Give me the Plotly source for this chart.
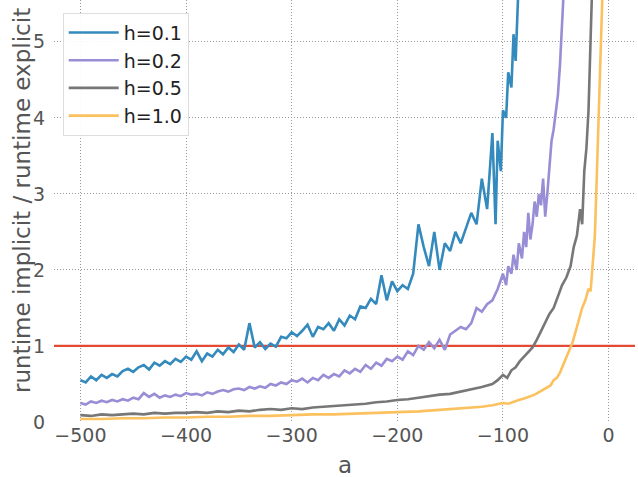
import plotly.graph_objects as go

# ---- data ----
a_h01 = [-500,-495,-490,-485,-480,-475,-470,-465,-460,-455,-450,-445,-440,-435,-430,-425,-420,-415,-410,-405,
         -400,-395,-390,-385,-380,-375,-370,-365,-360,-355,-350,-345,-340,-335,-330,-325,-320,-315,-310,-305,
         -300,-295,-290,-285,-280,-275,-270,-265,-260,-255,-250,-245,-240,-235,-230,-225,-220,-215,-210,-205,
         -200,-195,-190,-185,-180,-175,-170,-165,-160,-155,-150,-145,-140,-135,-130,-125,-120,-115,-110,-107,
         -105,-102,-100,-97,-95,-92,-90,-88,-86,-84]
r_h01 = [0.55,0.52,0.60,0.55,0.62,0.58,0.63,0.60,0.67,0.70,0.66,0.72,0.75,0.69,0.78,0.74,0.80,0.76,0.83,0.79,
         0.86,0.82,0.93,0.80,0.90,0.86,0.95,0.89,0.98,0.92,1.02,0.95,1.30,0.98,1.05,0.96,1.03,0.99,1.12,1.10,
         1.18,1.13,1.20,1.28,1.12,1.25,1.22,1.30,1.20,1.35,1.27,1.40,1.35,1.52,1.50,1.62,1.55,1.93,1.60,1.85,
         1.72,1.80,1.75,1.95,2.60,2.30,2.05,2.50,2.00,2.35,2.25,2.50,2.35,2.55,2.75,2.60,3.20,2.80,3.80,2.60,
         3.70,3.30,4.10,4.00,4.60,4.40,5.10,4.75,5.60,6.20]

a_h02 = [-500,-495,-490,-485,-480,-475,-470,-465,-460,-455,-450,-445,-440,-435,-430,-425,-420,-415,-410,-405,
         -400,-395,-390,-385,-380,-375,-370,-365,-360,-355,-350,-345,-340,-335,-330,-325,-320,-315,-310,-305,
         -300,-295,-290,-285,-280,-275,-270,-265,-260,-255,-250,-245,-240,-235,-230,-225,-220,-215,-210,-205,
         -200,-195,-190,-185,-180,-175,-170,-165,-160,-155,-150,-145,-140,-135,-130,-125,-120,-115,-110,-105,
         -100,-97,-95,-92,-90,-87,-85,-82,-80,-78,-76,-74,-72,-70,-68,-66,-64,-62,-60,-58,
         -56,-54,-52,-50,-48,-46,-44,-42]
r_h02 = [0.25,0.23,0.27,0.25,0.28,0.26,0.29,0.27,0.30,0.28,0.32,0.30,0.38,0.33,0.37,0.32,0.35,0.33,0.36,0.34,
         0.38,0.36,0.37,0.35,0.39,0.37,0.40,0.42,0.40,0.43,0.44,0.42,0.46,0.44,0.47,0.45,0.50,0.48,0.52,0.50,
         0.55,0.53,0.57,0.52,0.58,0.55,0.62,0.58,0.63,0.60,0.68,0.64,0.70,0.66,0.75,0.70,0.78,0.74,0.83,0.80,
         0.86,0.82,0.93,0.88,1.00,0.95,1.05,0.97,1.08,0.95,1.15,1.20,1.25,1.22,1.30,1.50,1.45,1.55,1.60,1.75,
         1.95,1.80,2.05,1.95,2.20,2.00,2.35,2.15,2.50,2.30,2.75,2.40,2.60,2.90,2.70,3.00,2.85,3.20,2.70,3.00,
         3.40,3.70,3.85,4.10,4.30,4.70,5.20,5.80]

a_h05 = [-500,-490,-480,-470,-460,-450,-440,-430,-420,-410,-400,-390,-380,-370,-360,-350,-340,-330,-320,-310,
         -300,-290,-280,-270,-260,-250,-240,-230,-220,-210,-200,-190,-180,-170,-160,-150,-140,-130,-120,-115,
         -110,-105,-100,-96,-92,-88,-84,-80,-76,-72,-68,-64,-60,-56,-52,-48,-44,-40,-36,-33,
         -30,-27,-25,-23,-21,-19,-17,-15]
r_h05 = [0.09,0.08,0.10,0.09,0.10,0.11,0.10,0.12,0.11,0.12,0.12,0.13,0.12,0.14,0.13,0.15,0.14,0.16,0.17,0.16,
         0.18,0.17,0.19,0.20,0.21,0.22,0.23,0.24,0.26,0.27,0.29,0.30,0.32,0.34,0.36,0.37,0.40,0.42,0.46,0.48,
         0.50,0.55,0.62,0.58,0.68,0.72,0.80,0.86,0.92,0.98,1.08,1.20,1.32,1.42,1.50,1.65,1.80,1.90,2.05,2.30,
         2.45,2.80,2.60,3.30,3.60,4.10,5.00,6.00]

a_h10 = [-500,-480,-460,-440,-420,-400,-380,-360,-340,-320,-300,-280,-260,-240,-220,-200,-180,-160,-140,-120,
         -110,-100,-95,-90,-85,-80,-75,-70,-65,-60,-55,-52,-49,-46,-43,-40,-37,-34,-31,-28,
         -25,-22,-19,-17,-15,-13,-11,-9,-7,-5]
r_h10 = [0.04,0.04,0.05,0.05,0.06,0.06,0.07,0.07,0.08,0.08,0.09,0.10,0.10,0.11,0.12,0.13,0.14,0.16,0.18,0.20,
         0.22,0.25,0.24,0.27,0.29,0.31,0.33,0.36,0.40,0.44,0.48,0.55,0.58,0.65,0.75,0.85,0.95,1.05,1.20,1.35,
         1.50,1.60,1.75,1.72,2.05,2.45,3.30,4.20,5.10,6.00]

ref_x = [-525, 25]
ref_y = [1, 1]

x_ticks = [-500, -400, -300, -200, -100, 0]
y_ticks = [0, 1, 2, 3, 4, 5]

series = [
    ("h=0.1", a_h01, r_h01, "#348ABD"),
    ("h=0.2", a_h02, r_h02, "#988ED5"),
    ("h=0.5", a_h05, r_h05, "#777777"),
    ("h=1.0", a_h10, r_h10, "#FBC15E"),
]

fig = go.Figure()
fig.add_trace(go.Scatter(x=ref_x, y=ref_y, mode="lines", showlegend=False,
                         line=dict(color="#E24A33", width=2.2), hoverinfo="skip"))
for name, xs, ys, col in series:
    fig.add_trace(go.Scatter(x=xs, y=ys, mode="lines", name=name,
                             line=dict(color=col, width=2.6)))

font_family = "DejaVu Sans"
grid_dash = "1px,2px"
fig.update_layout(
    width=638, height=477,
    margin=dict(l=54, r=3, t=0, b=55),
    paper_bgcolor="white", plot_bgcolor="white",
    font=dict(family=font_family, size=19, color="#555555"),
    showlegend=True,
    legend=dict(x=0.015, y=0.97, xanchor="left", yanchor="top",
                bgcolor="rgba(255,255,255,0.9)", bordercolor="#dddddd", borderwidth=1,
                font=dict(size=19, color="#222222"), itemwidth=50, tracegroupgap=0),
    xaxis=dict(range=[-525, 25], tickvals=x_ticks, showgrid=True, gridcolor="#999999",
               griddash=grid_dash, gridwidth=1, zeroline=False, showline=False, ticks="",
               automargin=False, tickfont=dict(size=19, color="#555555")),
    yaxis=dict(range=[0, 5.55], tickvals=y_ticks, showgrid=True, gridcolor="#999999",
               griddash=grid_dash, gridwidth=1, zeroline=False, showline=False, ticks="",
               automargin=False, tickfont=dict(size=19, color="#555555"), ticklabelstandoff=8),
    annotations=[
        dict(text="a", xref="paper", yref="paper", x=0.5, y=-43/422, xanchor="center",
             yanchor="middle", showarrow=False, font=dict(size=23, color="#555555")),
        dict(text="runtime implicit / runtime explicit", xref="paper", yref="paper",
             x=(22 - 54) / 581, y=1 - 201 / 422, xanchor="center", yanchor="middle",
             textangle=-90, showarrow=False, font=dict(size=23, color="#555555")),
    ],
)

fig.write_html("out.html", config={"displayModeBar": False},
               post_script="document.body.style.margin='0';")
